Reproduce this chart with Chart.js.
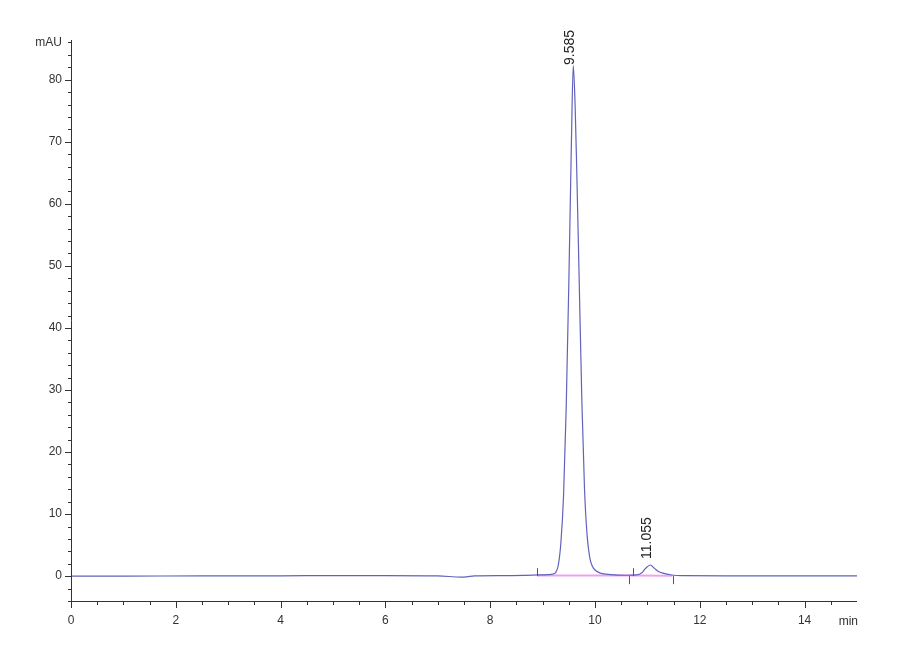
<!DOCTYPE html>
<html>
<head>
<meta charset="utf-8">
<script src="https://cdn.jsdelivr.net/npm/chart.js@4/dist/chart.umd.min.js"></script>
<style>
  html, body { margin: 0; padding: 0; background: #fff; }
  #wrap { width: 900px; height: 660px; }
</style>
</head>
<body>
<div id="wrap"><canvas id="chart"></canvas></div>
<script>
// chromatogram (time in min, signal in mAU)
const timeMin = [0, 1, 2.5, 4, 5, 6, 7, 7.45, 7.55, 7.7, 8.3, 8.9,
  9.1, 9.2, 9.25, 9.3, 9.35, 9.4, 9.45, 9.5, 9.55, 9.585,
  9.62, 9.65, 9.7, 9.75, 9.8, 9.85, 9.9, 9.95, 10.0, 10.1, 10.3, 10.6,
  10.8, 10.9, 10.97, 11.055, 11.13, 11.22, 11.3, 11.4, 11.5, 11.7, 12.5, 14, 15];
const signalMau = [0, 0, 0.05, 0.05, 0.1, 0.1, 0.05, -0.15, -0.1, 0.05, 0.1, 0.2,
  0.25, 0.35, 0.6, 1.8, 5.5, 13, 27, 47, 70, 82.3,
  76, 66, 47, 28, 14, 6.5, 3.0, 1.6, 1.0, 0.5, 0.25, 0.15,
  0.2, 0.6, 1.3, 1.8, 1.3, 0.7, 0.5, 0.3, 0.15, 0.1, 0.05, 0.05, 0.05];

// integration baseline
const baseTimes = [8.9, 10.68, 10.72, 11.48];
const baseValues = [0.1, 0.12, 0.12, 0.08];

// peak annotations
const peakTimes = [9.585, 11.055];
const peakHeights = [82.3, 1.8];
const peakLabels = ['9.585', '11.055'];

// integration event markers (1 = up, -1 = down)
const eventTimes = [8.9, 10.65, 10.72, 11.48];
const eventDirs = [1, -1, 1, -1];

// axes
const xTickValues = [];
for (let t = 0; t <= 14.5; t += 0.5) xTickValues.push(t);
const xMajor = [0, 2, 4, 6, 8, 10, 12, 14];
const yTickValues = [];
for (let v = -4; v <= 86; v += 2) yTickValues.push(v);
const yMajor = [0, 10, 20, 30, 40, 50, 60, 70, 80];

const tickFont = { family: 'Liberation Sans, Arial, sans-serif', size: 12 };

const tickPlugin = {
  id: 'tickMarks',
  afterDraw(chart) {
    const ctx = chart.ctx;
    const xs = chart.scales.x, ys = chart.scales.y;
    const area = chart.chartArea;
    ctx.save();
    ctx.strokeStyle = '#333';
    ctx.lineWidth = 1;
    ctx.beginPath();
    // axis lines
    ctx.moveTo(area.left + 0.5, area.top);
    ctx.lineTo(area.left + 0.5, area.bottom + 0.5);
    ctx.lineTo(area.right, area.bottom + 0.5);
    yTickValues.forEach(v => {
      const py = Math.round(ys.getPixelForValue(v)) + 0.5;
      const len = yMajor.includes(v) ? 6 : 3;
      ctx.moveTo(area.left - len, py);
      ctx.lineTo(area.left + 0.5, py);
    });
    xTickValues.forEach(t => {
      const px = Math.round(xs.getPixelForValue(t)) + 0.5;
      const len = xMajor.includes(t) ? 7 : 4;
      ctx.moveTo(px, area.bottom);
      ctx.lineTo(px, area.bottom + len);
    });
    ctx.stroke();

    // event markers
    ctx.strokeStyle = '#555';
    ctx.beginPath();
    eventTimes.forEach((t, i) => {
      const px = Math.round(xs.getPixelForValue(t)) + 0.5;
      const py = ys.getPixelForValue(0);
      ctx.moveTo(px, py);
      ctx.lineTo(px, py - 8 * eventDirs[i]);
    });
    ctx.stroke();

    // peak labels, kept from running far above the plot
    ctx.fillStyle = '#222';
    ctx.font = '14px Liberation Sans, Arial, sans-serif';
    ctx.textAlign = 'left';
    ctx.textBaseline = 'middle';
    peakTimes.forEach((t, i) => {
      const w = ctx.measureText(peakLabels[i]).width;
      const px = xs.getPixelForValue(t) - 3;
      let py = ys.getPixelForValue(peakHeights[i]) - 6;
      py = Math.max(py, area.top - 10 + w);
      ctx.save();
      ctx.translate(px, py);
      ctx.rotate(-Math.PI / 2);
      ctx.fillText(peakLabels[i], 0, 0);
      ctx.restore();
    });

    // unit of x axis
    ctx.fillStyle = '#333';
    ctx.font = '12px Liberation Sans, Arial, sans-serif';
    ctx.textAlign = 'right';
    ctx.textBaseline = 'middle';
    ctx.fillText('min', area.right + 1, area.bottom + 21);
    ctx.restore();
  }
};

new Chart(document.getElementById('chart'), {
  type: 'line',
  data: {
    datasets: [
      {
        data: baseTimes.map((t, i) => ({ x: t, y: baseValues[i] })),
        borderColor: '#f2a0ee',
        borderWidth: 2,
        pointRadius: 0,
        order: 2
      },
      {
        data: timeMin.map((t, i) => ({ x: t, y: signalMau[i] })),
        borderColor: '#6262bc',
        borderWidth: 1.2,
        pointRadius: 0,
        cubicInterpolationMode: 'monotone',
        order: 1
      }
    ]
  },
  options: {
    responsive: true,
    maintainAspectRatio: false,
    animation: false,
    layout: { padding: { top: 40, right: 43, left: 0, bottom: 0 } },
    plugins: { legend: { display: false }, tooltip: { enabled: false } },
    scales: {
      x: {
        type: 'linear',
        min: 0,
        max: 15,
        grid: { display: false },
        border: { display: false },
        afterBuildTicks: s => { s.ticks = xTickValues.map(v => ({ value: v })); },
        afterFit: s => { s.height = 59; },
        ticks: {
          autoSkip: false,
          maxRotation: 0,
          padding: 4,
          color: '#333',
          font: tickFont,
          callback: v => xMajor.includes(v) ? String(v) : ''
        }
      },
      y: {
        type: 'linear',
        min: -4,
        max: 86.4,
        grid: { display: false },
        border: { display: false },
        afterBuildTicks: s => { s.ticks = yTickValues.map(v => ({ value: v })); },
        afterFit: s => { s.width = 71; },
        ticks: {
          autoSkip: false,
          padding: 1,
          color: '#333',
          font: tickFont,
          callback: v => v === 86 ? 'mAU' : (yMajor.includes(v) ? String(v) : '')
        }
      }
    }
  },
  plugins: [tickPlugin]
});
</script>
</body>
</html>
